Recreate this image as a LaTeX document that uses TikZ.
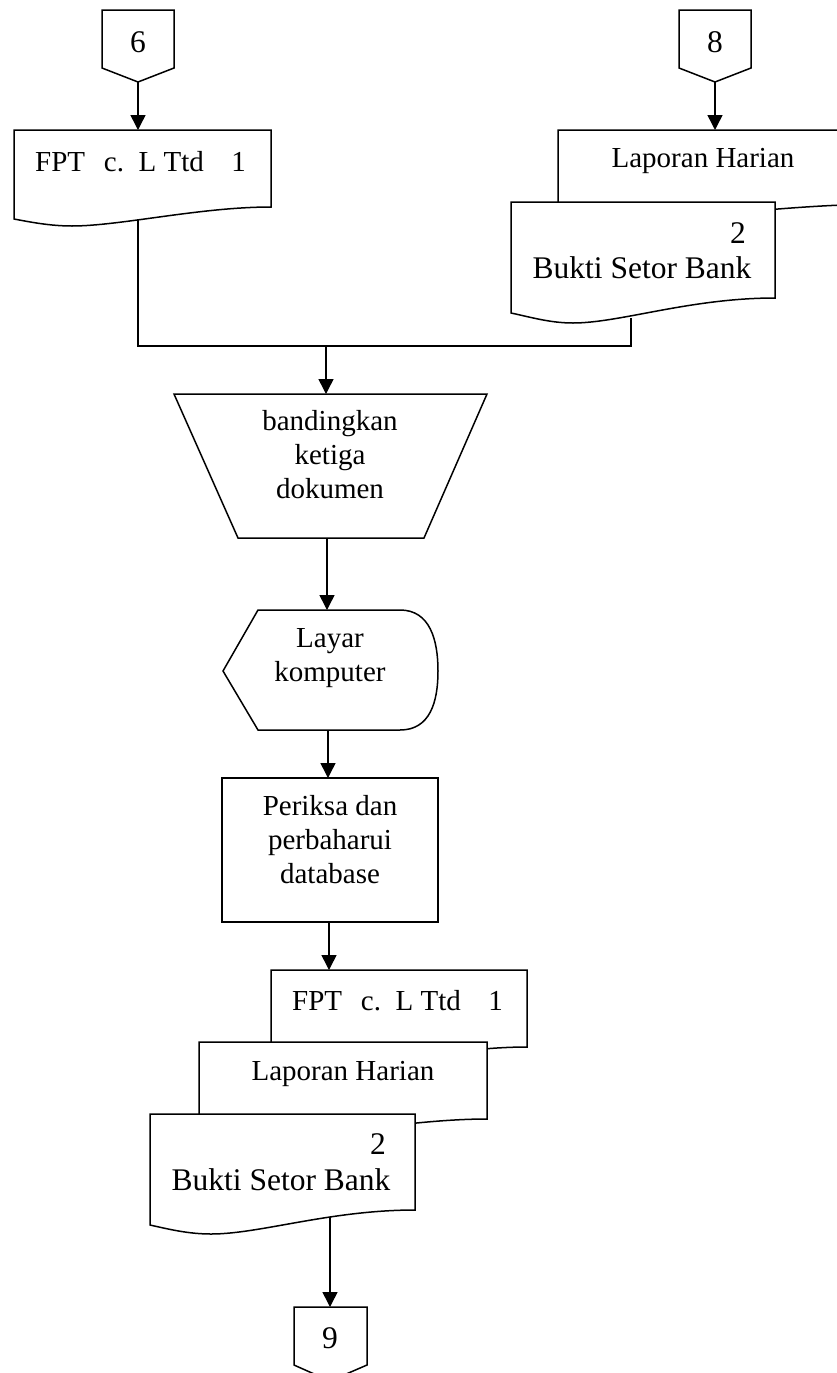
\documentclass[tikz,border=0pt]{standalone}
\usepackage{fontspec}
\setmainfont{Liberation Serif}
\usetikzlibrary{arrows.meta}
\tikzset{
  shp/.style={draw=black, line width=1.5pt, fill=white, line join=miter},
  conn/.style={draw=black, line width=1.5pt},
  arr/.style={conn, -{Triangle[length=15pt,width=15pt]}},
  txt/.style={font=\fontsize{29}{34}\selectfont, inner sep=0pt, align=center},
  bigtxt/.style={font=\fontsize{31.5}{36}\selectfont, inner sep=0pt, align=center},
}
\begin{document}
\begin{tikzpicture}[x=1pt,y=-1pt]
\clip (0,0) rectangle (837,1373);
\fill[white] (0,0) rectangle (837,1373);

% off-page connectors 6 and 8
\draw[shp] (102,10) -- (174,10) -- (174,68) -- (138,82) -- (102,68) -- cycle;
\node[bigtxt, anchor=base] (t6) at (138,52) {6};
\coordinate (c6) at (138,82);
\draw[shp] (679,10) -- (751,10) -- (751,68) -- (715,82) -- (679,68) -- cycle;
\node[bigtxt, anchor=base] (t8) at (715,52) {8};
\coordinate (c8) at (715,82);

% document FPT (top left)
\draw[shp] (14,130) -- (271,130) -- (271,207) .. controls (200,207) and (120,226) .. (72,226) .. controls (50,226) and (30,222) .. (14,219) -- cycle;
\node[txt, anchor=base west] (fpt1) at (35,171) {FPT\hspace{0.65em}c.\hspace{0.5em}L Ttd\hspace{0.95em}1};
\coordinate (fpt1top) at (138,130);
\coordinate (fpt1bot) at (138,220);

% document Laporan Harian (top right)
\draw[shp] (558,130) -- (890,130) -- (890,204) .. controls (830,204) and (780,209) .. (740,212) -- (558,215) -- cycle;
\node[txt, anchor=base] (lap1) at (703,167) {Laporan Harian};
\coordinate (lap1top) at (715,130);

% document Bukti Setor Bank (top right)
\draw[shp] (511,202) -- (775,202) -- (775,298) .. controls (690,298) and (620,323) .. (573,323) .. controls (550,323) and (530,317) .. (511,313) -- cycle;
\node[bigtxt, anchor=base east] (b1n) at (746,243) {2};
\node[bigtxt, anchor=base] (b1) at (642,278) {Bukti Setor Bank};
\coordinate (b1bot) at (631,318);

% joining lines
\coordinate (jl) at (138,346);
\coordinate (jr) at (631,346);
\coordinate (jm) at (326,346);
\draw[arr] (c6) -- (fpt1top);
\draw[arr] (c8) -- (lap1top);
\draw[conn] (fpt1bot) -- (jl) -- (jr) -- (b1bot);

% manual operation (trapezoid)
\draw[shp] (174,394) -- (487,394) -- (424,538) -- (238,538) -- cycle;
\node[txt] (band) at (330,455) {bandingkan\\ketiga\\dokumen};
\coordinate (bandtop) at (326,394);
\coordinate (bandbot) at (327,538);
\draw[arr] (jm) -- (bandtop);

% display
\draw[shp] (223,671) -- (258,610) -- (400,610) .. controls (430,610) and (438,640) .. (438,671) .. controls (438,702) and (430,730) .. (400,730) -- (258,730) -- cycle;
\node[txt] (layar) at (330,658) {Layar\\komputer};
\coordinate (laytop) at (327,610);
\coordinate (laybot) at (328,730);
\draw[arr] (bandbot) -- (laytop);

% process
\draw[shp] (222,778) rectangle (438,922);
\node[txt] (proc) at (330,840) {Periksa dan\\perbaharui\\database};
\coordinate (proctop) at (328,778);
\coordinate (procbot) at (329,922);
\draw[arr] (laybot) -- (proctop);

% bottom document stack
\draw[shp] (271,970) -- (527,970) -- (527,1047) .. controls (456,1047) and (376,1066) .. (329,1066) .. controls (307,1066) and (287,1062) .. (271,1059) -- cycle;
\node[txt, anchor=base west] (fpt2) at (292,1010) {FPT\hspace{0.65em}c.\hspace{0.5em}L Ttd\hspace{0.95em}1};
\coordinate (fpt2top) at (329,970);
\draw[arr] (procbot) -- (fpt2top);

\draw[shp] (199,1042) -- (487,1042) -- (487,1119) .. controls (410,1119) and (320,1138) .. (265,1138) .. controls (240,1138) and (215,1134) .. (199,1131) -- cycle;
\node[txt, anchor=base] (lap2) at (343,1080) {Laporan Harian};

\draw[shp] (150,1114) -- (415,1114) -- (415,1210) .. controls (330,1210) and (260,1234) .. (211,1234) .. controls (188,1234) and (168,1229) .. (150,1225) -- cycle;
\node[bigtxt, anchor=base east] (b2n) at (386,1154) {2};
\node[bigtxt, anchor=base] (b2) at (281,1190) {Bukti Setor Bank};
\coordinate (b2bot) at (330,1217);

% off-page connector 9
\draw[shp] (294,1307) -- (367,1307) -- (367,1365) -- (330,1381) -- (294,1365) -- cycle;
\node[bigtxt, anchor=base] (t9) at (330,1348) {9};
\coordinate (c9top) at (330,1307);
\draw[arr] (b2bot) -- (c9top);
\end{tikzpicture}
\end{document}
